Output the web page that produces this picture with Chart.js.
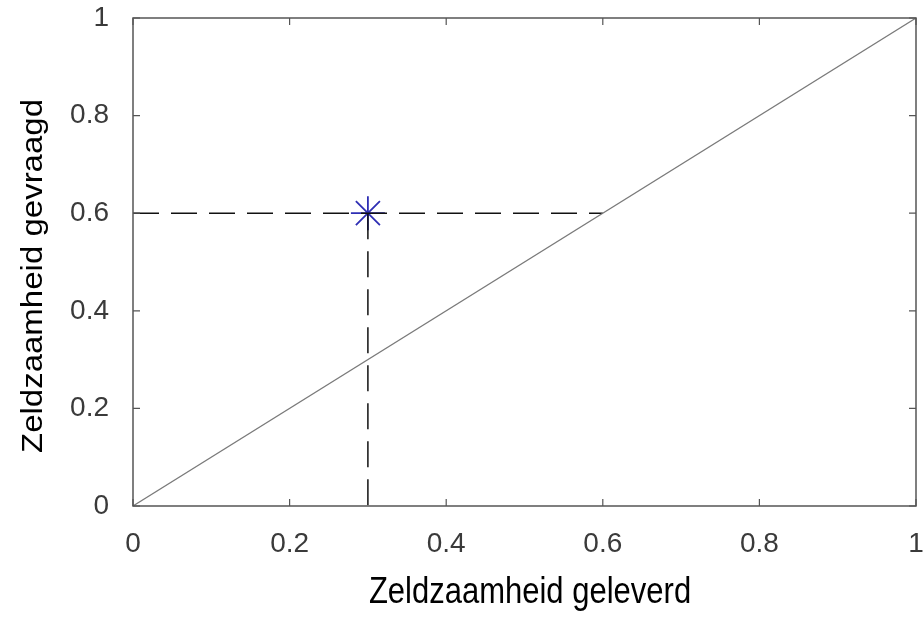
<!DOCTYPE html>
<html>
<head>
<meta charset="utf-8">
<script src="https://cdn.jsdelivr.net/npm/chart.js@4.4.1/dist/chart.umd.min.js"></script>
<style>
    html, body { margin: 0; padding: 0; background: #fff; }
    .wrap { width: 923px; height: 617px; position: relative; }
</style>
</head>
<body>
<div class="wrap"><canvas id="myChart"></canvas></div>
<script>
// waarden
var tickValues = [0, 0.2, 0.4, 0.6, 0.8, 1];
var diagX = [0, 1];
var diagY = [0, 1];
var pointX = [0.3];
var pointY = [0.6];
var guideHX = [0, 0.6];
var guideHY = [0.6, 0.6];
var guideVX = [0.3, 0.3];
var guideVY = [0.6, 0];
var xTitle = 'Zeldzaamheid geleverd';
var yTitle = 'Zeldzaamheid gevraagd';

function pts(xs, ys) {
    return xs.map(function(x, i) { return {x: x, y: ys[i]}; });
}

/* kader + tickjes naar binnen, zoals octave */
var boxPlugin = {
    id: 'box',
    afterDatasetsDraw: function(chart) {
        var c = chart.ctx, a = chart.chartArea;
        var sx = chart.scales.x, sy = chart.scales.y;
        var tl = 7;
        c.save();
        c.strokeStyle = '#555';
        c.lineWidth = 1.5;
        c.strokeRect(a.left, a.top, a.right - a.left, a.bottom - a.top);
        c.lineWidth = 1.2;
        c.beginPath();
        tickValues.forEach(function(v) {
            var px = sx.getPixelForValue(v);
            var py = sy.getPixelForValue(v);
            c.moveTo(px, a.bottom); c.lineTo(px, a.bottom - tl);
            c.moveTo(px, a.top); c.lineTo(px, a.top + tl);
            c.moveTo(a.left, py); c.lineTo(a.left + tl, py);
            c.moveTo(a.right, py); c.lineTo(a.right - tl, py);
        });
        c.stroke();
        c.restore();
    },
    // astitels, iets hoger getrokken
    afterDraw: function(chart) {
        var c = chart.ctx;
        c.save();
        c.fillStyle = '#000';
        c.font = '31px "Liberation Sans", Arial, sans-serif';
        c.textAlign = 'center';
        c.textBaseline = 'alphabetic';
        c.translate(530, 603);
        c.scale(1, 1.2);
        c.fillText(xTitle, 0, 0);
        c.restore();

        c.save();
        c.fillStyle = '#000';
        c.font = '30px "Liberation Sans", Arial, sans-serif';
        c.textAlign = 'center';
        c.textBaseline = 'middle';
        c.translate(34, 276);
        c.rotate(-Math.PI / 2);
        c.scale(1.1, 1);
        c.fillText(yTitle, 0, 0);
        c.restore();
    }
};

var tickFont = { size: 28, family: '"Liberation Sans", Arial, sans-serif' };

var ctx = document.getElementById("myChart").getContext('2d');
var myChart = new Chart(ctx, {
    type: 'scatter',
    data: {
        datasets: [{
            type: 'line',
            data: pts(diagX, diagY),
            borderColor: '#7a7a7a',
            borderWidth: 1.2,
            pointRadius: 0
        }, {
            type: 'line',
            data: pts(guideHX, guideHY),
            borderColor: '#111',
            borderWidth: 1.5,
            borderDash: [26, 12],
            pointRadius: 0
        }, {
            type: 'line',
            data: pts(guideVX, guideVY),
            borderColor: '#111',
            borderWidth: 1.5,
            borderDash: [26, 12],
            pointRadius: 0
        }, {
            data: pts(pointX, pointY),
            pointStyle: 'star',
            pointRadius: 17,
            borderColor: '#2f2fb4',
            borderWidth: 1.8,
            backgroundColor: '#2f2fb4'
        }]
    },
    options: {
        responsive: true,
        maintainAspectRatio: false,
        animation: false,
        plugins: {
            legend: { display: false },
            tooltip: { enabled: false }
        },
        layout: {
            autoPadding: false,
            padding: { left: 0, right: 7, top: 18, bottom: 0 }
        },
        scales: {
            x: {
                type: 'linear',
                min: 0, max: 1,
                grid: { display: false },
                border: { display: false },
                afterBuildTicks: function(s) { s.ticks = tickValues.map(function(v) { return {value: v}; }); },
                afterFit: function(s) { s.height = 111; s.paddingLeft = 0; s.paddingRight = 0; },
                ticks: {
                    padding: 13,
                    color: '#3a3a3a',
                    maxRotation: 0,
                    font: tickFont,
                    callback: function(v) { return String(v); }
                }
            },
            y: {
                type: 'linear',
                min: 0, max: 1,
                grid: { display: false },
                border: { display: false },
                afterBuildTicks: function(s) { s.ticks = tickValues.map(function(v) { return {value: v}; }); },
                afterFit: function(s) { s.width = 133; s.paddingTop = 0; s.paddingBottom = 0; },
                ticks: {
                    padding: 16,
                    color: '#3a3a3a',
                    font: tickFont,
                    callback: function(v) { return String(v); }
                }
            }
        }
    },
    plugins: [boxPlugin]
});
</script>
</body>
</html>
